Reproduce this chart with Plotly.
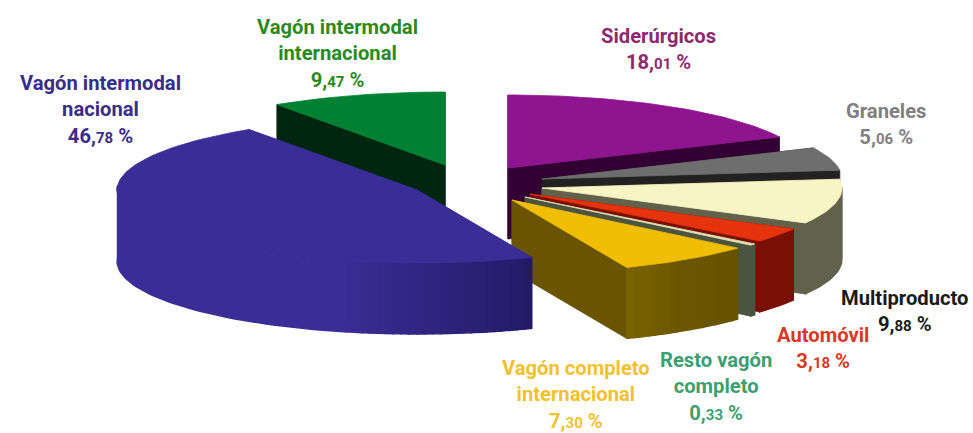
import math
import plotly.graph_objects as go

# Data, clockwise from 12 o'clock
categories = ["Siderúrgicos", "Graneles", "Multiproducto", "Automóvil",
              "Resto vagón completo", "Vagón completo internacional",
              "Vagón intermodal nacional", "Vagón intermodal internacional"]
values = [18.01, 5.06, 9.88, 3.18, 0.33, 7.30, 46.78, 9.47]
label_lines = [["Siderúrgicos"], ["Graneles"], ["Multiproducto"], ["Automóvil"],
               ["Resto vagón", "completo"], ["Vagón completo", "internacional"],
               ["Vagón intermodal", "nacional"], ["Vagón intermodal", "internacional"]]

# Style and layout
W, H = 973, 433
RX, RY, DEPTH = 300, 73, 71
slice_origin = [(508, 168), (542, 179), (542, 188), (530, 194),
                (525, 197), (512, 200), (417, 190), (445, 165)]
top_colors = ["#8F148F", "#6E6E6E", "#F7F5C4", "#E5330E",
              "#E8E0B0", "#F2BD05", "#3A2D96", "#008033"]
radial_colors = ["#330033", "#222222", "#62624C", "#7A0F05",
                 "#4A5540", "#6B5400", "#3A2D96", "#00260F"]
wall_stops = [[(0, "#330033"), (1, "#330033")],
              [(0, "#222222"), (1, "#222222")],
              [(0, "#62624C"), (1, "#62624C")],
              [(0, "#7A0F05"), (1, "#7A0F05")],
              [(0, "#4A5540"), (1, "#4A5540")],
              [(0, "#675200"), (0.55, "#6B5600"), (1, "#7A6300")],
              [(0, "#241A66"), (0.22, "#3A2D96"), (1, "#3A2D96")],
              [(0, "#00260F"), (1, "#00260F")]]
text_colors = ["#8E2A6C", "#7F7F7F", "#1A1A1A", "#D93A1F",
               "#3BA070", "#F2C12E", "#3A2D86", "#2A8A22"]
label_pos = [(658, 49), (886, 124), (905, 311), (823, 348),
             (716, 386), (576, 394), (100, 109), (337, 53)]
draw_order = [7, 0, 1, 2, 3, 4, 5, 6]
FONT = "Roboto"
SIZE = 20.2
SMALL = 15


def hex_rgb(c):
    return tuple(int(c[i:i + 2], 16) for i in (1, 3, 5))


def mix(stops, f):
    for (f0, c0), (f1, c1) in zip(stops, stops[1:]):
        if f <= f1:
            t = (f - f0) / (f1 - f0) if f1 > f0 else 0
            a, b = hex_rgb(c0), hex_rgb(c1)
            return "rgb(%d,%d,%d)" % tuple(round(a[i] + (b[i] - a[i]) * t) for i in range(3))
    return "rgb(%d,%d,%d)" % hex_rgb(stops[-1][1])


def rim(o, deg):
    r = math.radians(deg)
    return o[0] + RX * math.sin(r), o[1] - RY * math.cos(r)


def poly(fig, pts, color, lw=0.8):
    fig.add_trace(go.Scatter(
        x=[p[0] for p in pts] + [pts[0][0]], y=[p[1] for p in pts] + [pts[0][1]],
        mode="lines", fill="toself", fillcolor=color,
        line=dict(color=color, width=lw), hoverinfo="skip", showlegend=False))


total = sum(values)
starts, cum = [], 0.0
for v in values:
    starts.append(cum / total * 360)
    cum += v

fig = go.Figure()
for i in draw_order:
    o = slice_origin[i]
    a0 = starts[i]
    a1 = a0 + values[i] / total * 360
    n = max(2, int((a1 - a0) / 1.5))
    angs = [a0 + (a1 - a0) * k / n for k in range(n + 1)]
    rimpts = [rim(o, a) for a in angs]
    down = lambda p: (p[0], p[1] + DEPTH)
    # radial side walls
    for edge in (rimpts[0], rimpts[-1]):
        poly(fig, [o, edge, down(edge), down(o)], radial_colors[i])
    # outer wall: only the part facing the viewer (90-270 degrees), shaded along
    # the arc; equal-coloured runs become one polygon
    k = 0
    while k < n:
        if not 88 <= angs[k] <= 272:
            k += 1
            continue
        color = mix(wall_stops[i], (k + 0.5) / n)
        e = k + 1
        while (e < n and angs[e] <= 272
               and mix(wall_stops[i], (e + 0.5) / n) == color):
            e += 1
        run = rimpts[k:e + 1]
        poly(fig, run + [down(p) for p in reversed(run)], color, lw=1.4)
        k = e
    # top face
    poly(fig, [o] + rimpts, top_colors[i])

for i, lines in enumerate(label_lines):
    whole, dec = f"{values[i]:.2f}".split(".")
    pct = f'{whole},<span style="font-size:{SMALL}px">{dec}</span> %'
    fig.add_annotation(
        x=label_pos[i][0], y=label_pos[i][1], xref="x", yref="y",
        text="<br>".join(f"<b>{l}</b>" for l in lines) + f"<br><b>{pct}</b>",
        showarrow=False, align="center",
        font=dict(family=FONT, size=SIZE, color=text_colors[i]))

fig.update_layout(
    width=W, height=H, margin=dict(l=0, r=0, t=0, b=0),
    paper_bgcolor="white", plot_bgcolor="white", showlegend=False,
    xaxis=dict(range=[0, W], visible=False, fixedrange=True),
    yaxis=dict(range=[H, 0], visible=False, fixedrange=True))
fig.write_html("out.html", config={"displayModeBar": False},
               post_script="document.body.style.margin='0';document.body.style.overflow='hidden';")
